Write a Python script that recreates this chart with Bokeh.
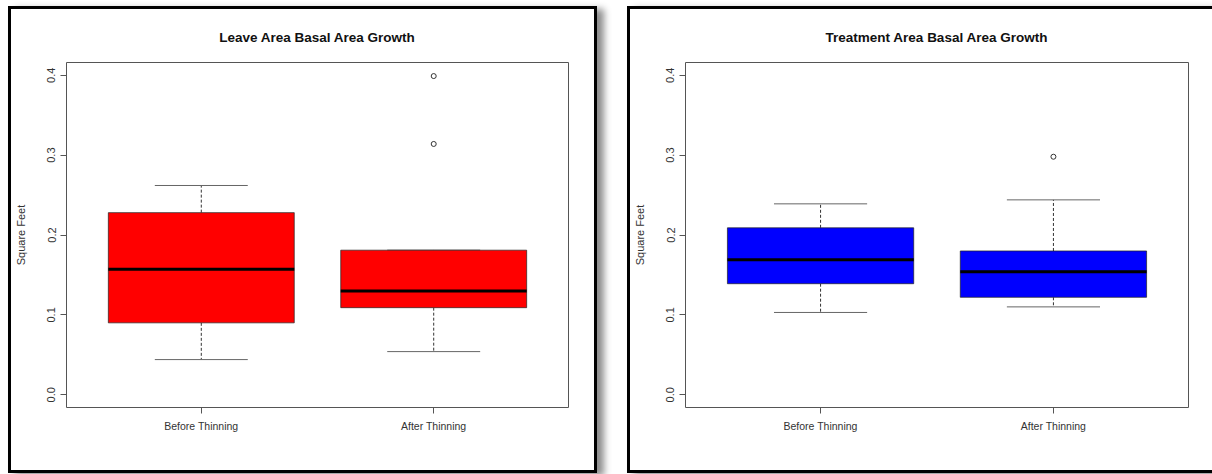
from bokeh.plotting import figure
from bokeh.layouts import row
from bokeh.models import Range1d, FactorRange, FixedTicker, PrintfTickFormatter, ColumnDataSource
from bokeh.transform import dodge
from bokeh.embed import file_html
from bokeh.resources import INLINE

# Groups compared in both areas
groups = ["Before Thinning", "After Thinning"]

# Leave area: five-number summaries (sq ft) and outliers
leave_lower = [0.044, 0.054]
leave_q1 = [0.090, 0.109]
leave_median = [0.157, 0.130]
leave_q3 = [0.228, 0.181]
leave_upper = [0.262, 0.181]
leave_out_group = ["After Thinning", "After Thinning"]
leave_out_value = [0.399, 0.314]

# Treatment area: five-number summaries (sq ft) and outliers
treat_lower = [0.103, 0.110]
treat_q1 = [0.139, 0.122]
treat_median = [0.169, 0.154]
treat_q3 = [0.209, 0.180]
treat_upper = [0.239, 0.244]
treat_out_group = ["After Thinning"]
treat_out_value = [0.298]

y_ticks = [0.0, 0.1, 0.2, 0.3, 0.4]

FONT = "Liberation Sans"
AXIS_GREY = "#555555"


def boxplot_panel(title, fill, lower, q1, median, q3, upper, out_group, out_value,
                  width, right_pad, bottom_pad, box_styles):
    src = ColumnDataSource(dict(g=groups, lower=lower, q1=q1, median=median, q3=q3, upper=upper))
    p = figure(
        x_range=FactorRange(*groups, range_padding=0.08),
        y_range=Range1d(-0.016, 0.416),
        width=width, height=461,
        min_border_left=53, min_border_right=right_pad,
        min_border_top=53, min_border_bottom=bottom_pad,
        output_backend="svg", toolbar_location=None,
        title=title,
    )
    p.styles = box_styles
    p.margin = (6, 0, 0, 0)

    # whiskers (dashed) from box edges to the extremes
    p.segment(x0="g", y0="q3", x1="g", y1="upper", source=src,
              line_color="#333333", line_width=1, line_dash="3 2")
    p.segment(x0="g", y0="q1", x1="g", y1="lower", source=src,
              line_color="#333333", line_width=1, line_dash="3 2")
    # staples
    for col in ("upper", "lower"):
        p.segment(x0=dodge("g", -0.2, range=p.x_range), y0=col,
                  x1=dodge("g", 0.2, range=p.x_range), y1=col, source=src,
                  line_color="#666666", line_width=1)
    # boxes
    p.vbar(x="g", width=0.8, bottom="q1", top="q3", source=src,
           fill_color=fill, line_color="#222222", line_alpha=0.7, line_width=1)
    # medians
    p.segment(x0=dodge("g", -0.4, range=p.x_range), y0="median",
              x1=dodge("g", 0.4, range=p.x_range), y1="median", source=src,
              line_color="#000000", line_width=3)
    # outliers
    p.scatter(x=out_group, y=out_value, marker="circle", size=5,
              fill_color=None, line_color="#333333", line_width=1)

    p.xgrid.visible = False
    p.ygrid.visible = False
    p.outline_line_color = AXIS_GREY
    p.outline_line_width = 1
    p.background_fill_color = "white"
    p.border_fill_color = "white"

    p.title.text_font = FONT
    p.title.text_font_size = "13.5px"
    p.title.text_font_style = "bold"
    p.title.text_color = "#111111"
    p.title.align = "center"
    p.title.standoff = 36

    xa = p.xaxis[0]
    xa.axis_line_color = None
    xa.major_tick_line_color = AXIS_GREY
    xa.major_tick_out = 6
    xa.major_tick_in = 0
    xa.minor_tick_line_color = None
    xa.major_label_text_font = FONT
    xa.major_label_text_font_size = "10.5px"
    xa.major_label_text_color = "#333333"
    xa.major_label_standoff = 6

    ya = p.yaxis[0]
    ya.ticker = FixedTicker(ticks=y_ticks)
    ya.formatter = PrintfTickFormatter(format="%.1f")
    ya.axis_line_color = None
    ya.major_tick_line_color = AXIS_GREY
    ya.major_tick_out = 6
    ya.major_tick_in = 0
    ya.minor_tick_line_color = None
    ya.major_label_orientation = "vertical"
    ya.major_label_text_font = FONT
    ya.major_label_text_font_size = "11px"
    ya.major_label_text_color = "#333333"
    ya.major_label_standoff = 5
    ya.axis_label = "Square Feet"
    ya.axis_label_text_font = FONT
    ya.axis_label_text_font_size = "11px"
    ya.axis_label_text_font_style = "normal"
    ya.axis_label_text_color = "#333333"
    ya.axis_label_standoff = 18
    return p


left = boxplot_panel(
    "Leave Area Basal Area Growth", "#ff0000",
    leave_lower, leave_q1, leave_median, leave_q3, leave_upper,
    leave_out_group, leave_out_value, 583, 32, 69,
    {"border": "3px solid #000000", "box-sizing": "content-box",
     "box-shadow": "7px 3px 7px rgba(0,0,0,0.45)", "margin-left": "8px"},
)
right = boxplot_panel(
    "Treatment Area Basal Area Growth", "#0000ff",
    treat_lower, treat_q1, treat_median, treat_q3, treat_upper,
    treat_out_group, treat_out_value, 582, 27, 69,
    {"border": "3px solid #000000", "border-right": "none", "box-sizing": "content-box",
     "box-shadow": "7px 3px 7px rgba(0,0,0,0.45)", "margin-left": "30px"},
)

layout = row(left, right)
layout.styles = {"background-color": "white"}

open("out.html", "w").write(file_html(layout, INLINE))
